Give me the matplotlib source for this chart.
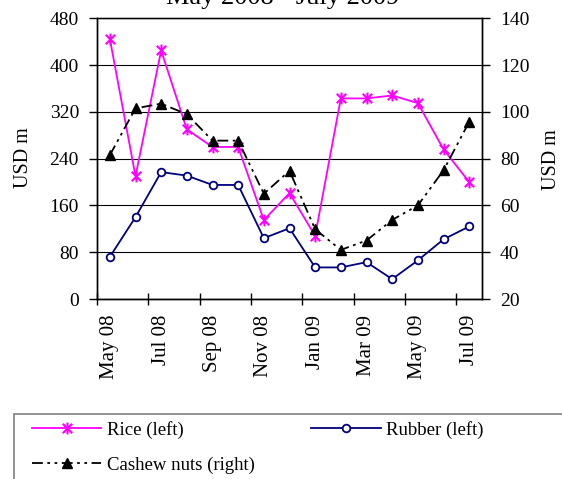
import numpy as np
import matplotlib.pyplot as plt
from matplotlib.path import Path
from matplotlib.patches import Rectangle

plt.rcParams['font.family'] = ['Liberation Serif', 'DejaVu Serif']

# monthly export values, May 2008 - July 2009
months = ["May 08", "Jun 08", "Jul 08", "Aug 08", "Sep 08", "Oct 08", "Nov 08", "Dec 08",
          "Jan 09", "Feb 09", "Mar 09", "Apr 09", "May 09", "Jun 09", "Jul 09"]
rice = [445, 210, 425, 290, 260, 260, 135, 181, 108, 343, 343, 348, 335, 256, 200]
rubber = [72, 140, 217, 211, 195, 195, 104, 121, 54, 54, 63, 34, 66, 102, 124]
cashew = [81.5, 101.5, 103.5, 99, 87.7, 87.7, 65, 74.8, 49.8, 41, 45, 53.8, 60, 75, 95.7]

W, H = 562, 479
fig = plt.figure(figsize=(W / 100, H / 100), dpi=100)
ax = fig.add_axes([97 / W, 1 - 299 / H, (482 - 97) / W, (299 - 18.3) / H])
ax2 = ax.twinx()

x = np.arange(len(months))

# asterisk-style marker: vertical bar plus an x
star = Path([(0, -1), (0, 1), (-0.8, -0.8), (0.8, 0.8), (-0.8, 0.8), (0.8, -0.8)],
            [Path.MOVETO, Path.LINETO, Path.MOVETO, Path.LINETO, Path.MOVETO, Path.LINETO])

l_rice, = ax.plot(x, rice, color="#ff00ff", lw=1.3, marker=star, ms=8.5, mew=1.5,
                  label="Rice (left)", zorder=3)
l_rub, = ax.plot(x, rubber, color="#000080", lw=1.3, marker="o", ms=5.5, mew=1.3,
                 mfc="white", label="Rubber (left)", zorder=3)
l_cash, = ax2.plot(x, cashew, color="black", lw=1.3, marker="^", ms=7,
                   dashes=(6, 2.5, 1.5, 2.5, 1.5, 2.5), label="Cashew nuts (right)", zorder=3)

ax.set_xlim(-0.5, len(months) - 0.5)
ax.set_ylim(0, 480)
ax.set_yticks(np.arange(0, 481, 80))
ax2.set_ylim(20, 140)
ax2.set_yticks(np.arange(20, 141, 20))

ax.yaxis.grid(True, color="black", lw=0.8)
ax.set_axisbelow(True)

# tick marks between categories, labels every second month
ax.set_xticks(np.arange(-0.5, len(months) - 1, 2))
ax.set_xticklabels([])
ax.set_xticks(x[::2], minor=True)
ax.set_xticklabels(months[::2], minor=True, rotation=90, fontsize=15, va="top")
ax.tick_params(axis="x", which="major", direction="inout", length=8, width=1)
ax.tick_params(axis="x", which="minor", length=0, pad=11.5)

ax.tick_params(axis="y", direction="out", length=6, width=1, labelsize=14, pad=7)
ax2.tick_params(axis="y", direction="out", length=6, width=1, labelsize=14, pad=7)

for a in (ax, ax2):
    for s in a.spines.values():
        s.set_color("black")
        s.set_linewidth(1)
ax.spines["top"].set_color("#808080")

fig.text(24 / W, 1 - 158 / H, "USD m", rotation=90, fontsize=14.5, ha="center", va="center")
fig.text(552 / W, 1 - 160 / H, "USD m", rotation=90, fontsize=14.5, ha="center", va="center")

fig.text(283 / W, 1 - 4 / H, "May 2008 - July 2009", fontsize=19, ha="center", va="baseline")

# legend box running off the right and bottom edges
fig.patches.append(Rectangle((13.5 / W, -0.1), 1.0, 1 - 413.5 / H + 0.1,
                             transform=fig.transFigure, fill=False,
                             edgecolor="#808080", lw=1.2))
fig.legend([l_rice, l_cash, l_rub], ["Rice (left)", "Cashew nuts (right)", "Rubber (left)"],
           ncol=2, frameon=False, loc="upper left",
           bbox_to_anchor=(32 / W, 1 - 421 / H), borderpad=0, borderaxespad=0,
           handlelength=3.7, handletextpad=0.3, columnspacing=3.0,
           labelspacing=0.95, fontsize=13.5)

fig.savefig("out.png", dpi=100)
